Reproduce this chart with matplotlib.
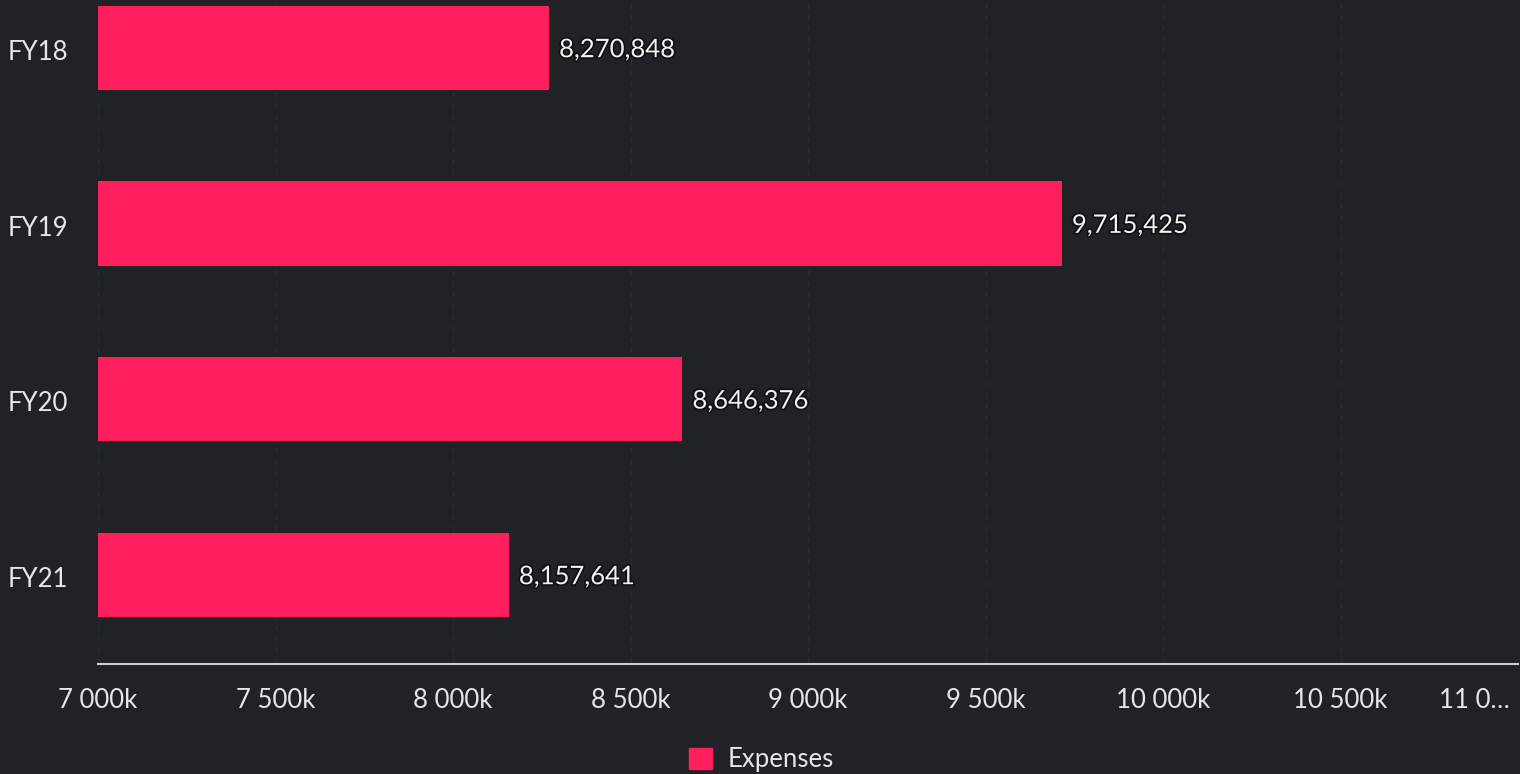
import matplotlib
matplotlib.use("Agg")
import matplotlib.pyplot as plt
import matplotlib.patheffects as pe
import matplotlib.transforms as mtransforms
from matplotlib.patches import Patch

categories = ["FY18", "FY19", "FY20", "FY21"]
expenses = [8270848, 9715425, 8646376, 8157641]
tick_values = [7000000, 7500000, 8000000, 8500000, 9000000, 9500000, 10000000, 10500000, 11000000]
tick_labels = ["7 000k", "7 500k", "8 000k", "8 500k", "9 000k", "9 500k", "10 000k", "10 500k", "11 0…"]
series_name = "Expenses"

BG = "#212225"
BAR = "#FF1F5E"
TXT = "#E6E6E6"
FS = 18.5
plt.rcParams['font.family'] = ['Lato', 'DejaVu Sans']

fig = plt.figure(figsize=(15.2, 7.74), dpi=100, facecolor=BG)
ax = fig.add_axes([98/1520, 1 - 664/774, (1518-98)/1520, 664/774])
ax.set_facecolor(BG)

ypos = list(range(len(categories)))
ax.barh(ypos, expenses, height=0.48, color=BAR, zorder=3)
ax.set_xlim(7000000, 11000000)
ax.set_ylim(3.507, -0.273)

ax.set_yticks(ypos)
ax.set_yticklabels(categories, fontsize=FS, color=TXT)
ax.tick_params(axis='y', length=0, pad=0)
for lbl in ax.get_yticklabels():
    lbl.set_horizontalalignment('left')
    lbl.set_transform(ax.get_yaxis_transform() + mtransforms.ScaledTranslation(-90/100, -2/100, fig.dpi_scale_trans))
    lbl.set_x(0)

ax.set_xticks(tick_values)
ax.set_xticklabels(tick_labels, fontsize=FS, color=TXT)
ax.tick_params(axis='x', length=0, pad=17)
xl = ax.get_xticklabels()
xl[-1].set_horizontalalignment('right')
xl[-1].set_transform(xl[-1].get_transform() + mtransforms.ScaledTranslation(-8/100, 0, fig.dpi_scale_trans))

ax.grid(axis='x', color='#2b2c30', linestyle=(0, (4, 4)), linewidth=1, zorder=0)
for s in ['top', 'right', 'left']:
    ax.spines[s].set_visible(False)
ax.spines['bottom'].set_color('#cfcfcf')
ax.spines['bottom'].set_linewidth(1.5)

for y, v in zip(ypos, expenses):
    ax.text(v + 28000, y + 0.01, f"{v:,}", va='center', ha='left', fontsize=FS, color='#F2F2F2',
            path_effects=[pe.withStroke(linewidth=2.5, foreground='#111111')], zorder=4)

handles = [Patch(facecolor=BAR, edgecolor=BAR, label=series_name)]
fig.legend(handles=handles, loc='center', bbox_to_anchor=(761/1520, 1 - 760/774), frameon=False,
           fontsize=FS, labelcolor=TXT, handlelength=0.9, handleheight=0.9, handletextpad=0.6)

fig.savefig("out.png", dpi=100, facecolor=BG)
